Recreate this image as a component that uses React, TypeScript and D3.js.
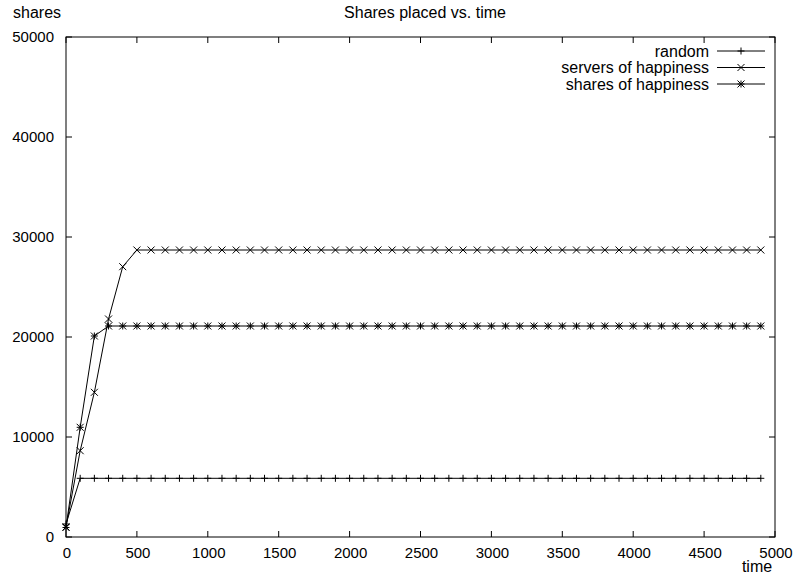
import React from "react";
import * as d3 from "d3";

// Sample times (every 100 time units)
const times: number[] = d3.range(0, 5000, 100);

// Shares placed per strategy, first few samples then the plateau value
const randomHead: number[] = [1300];
const randomPlateau = 5870;
const serversHead: number[] = [1000, 8630, 14470, 21800, 27030];
const serversPlateau = 28700;
const sharesHead: number[] = [950, 10970, 20100];
const sharesPlateau = 21100;

const xTicks: number[] = [0, 500, 1000, 1500, 2000, 2500, 3000, 3500, 4000, 4500, 5000];
const yTicks: number[] = [0, 10000, 20000, 30000, 40000, 50000];

const fill = (head: number[], plateau: number) =>
  times.map((_, i) => (i < head.length ? head[i] : plateau));

const series = [
  { name: "random", marker: "plus", values: fill(randomHead, randomPlateau) },
  { name: "servers of happiness", marker: "cross", values: fill(serversHead, serversPlateau) },
  { name: "shares of happiness", marker: "star", values: fill(sharesHead, sharesPlateau) },
];

const W = 808;
const H = 575;
const left = 66;
const right = 775;
const top = 37;
const bottom = 537;
const FONT = "'Liberation Sans', Arial, sans-serif";

const x = d3.scaleLinear().domain([0, 5000]).range([left, right]);
const y = d3.scaleLinear().domain([0, 50000]).range([bottom, top]);

function Marker({ kind, cx, cy }: { kind: string; cx: number; cy: number }) {
  const s = 3.5;
  const plus = `M${cx - s},${cy}H${cx + s}M${cx},${cy - s}V${cy + s}`;
  const cross = `M${cx - s},${cy - s}L${cx + s},${cy + s}M${cx - s},${cy + s}L${cx + s},${cy - s}`;
  const d = kind === "plus" ? plus : kind === "cross" ? cross : plus + cross;
  return <path d={d} stroke="#000" strokeWidth={1} fill="none" />;
}

export default function App() {
  const line = d3
    .line<number>()
    .x((_, i) => x(times[i]))
    .y((v) => y(v));

  return (
    <svg
      width={W}
      height={H}
      style={{ position: "absolute", left: 0, top: 0, background: "#fff" }}
      fontFamily={FONT}
      fontSize={16}
    >
      <rect x={0} y={0} width={W} height={H} fill="#fff" />
      <text x={425} y={18} textAnchor="middle">Shares placed vs. time</text>
      <text x={13} y={17.5}>shares</text>
      <text x={757} y={572} textAnchor="middle">time</text>

      {yTicks.map((t) => (
        <g key={"y" + t}>
          <path d={`M${left},${y(t)}h6M${right},${y(t)}h-6`} stroke="#000" />
          <text x={54} y={y(t) + 5.3} textAnchor="end" fontSize={15}>{t}</text>
        </g>
      ))}
      {xTicks.map((t) => (
        <g key={"x" + t}>
          <path d={`M${x(t)},${bottom}v-6M${x(t)},${top}v6`} stroke="#000" />
          <text x={x(t) + 1} y={558} textAnchor="middle" fontSize={15}>{t}</text>
        </g>
      ))}

      {series.map((s) => (
        <g key={s.name}>
          <path d={line(s.values) ?? ""} stroke="#000" strokeWidth={1} fill="none" />
          {s.values.map((v, i) => (
            <Marker key={i} kind={s.marker} cx={x(times[i])} cy={y(v)} />
          ))}
        </g>
      ))}

      {series.map((s, i) => {
        const ly = 51 + i * 16.5;
        return (
          <g key={"lg" + s.name}>
            <text x={709} y={ly + 5.5} textAnchor="end">{s.name}</text>
            <path d={`M717,${ly}H765`} stroke="#000" />
            <Marker kind={s.marker} cx={741} cy={ly} />
          </g>
        );
      })}

      <rect x={left} y={top} width={right - left} height={bottom - top} fill="none" stroke="#000" strokeWidth={1} />
    </svg>
  );
}
